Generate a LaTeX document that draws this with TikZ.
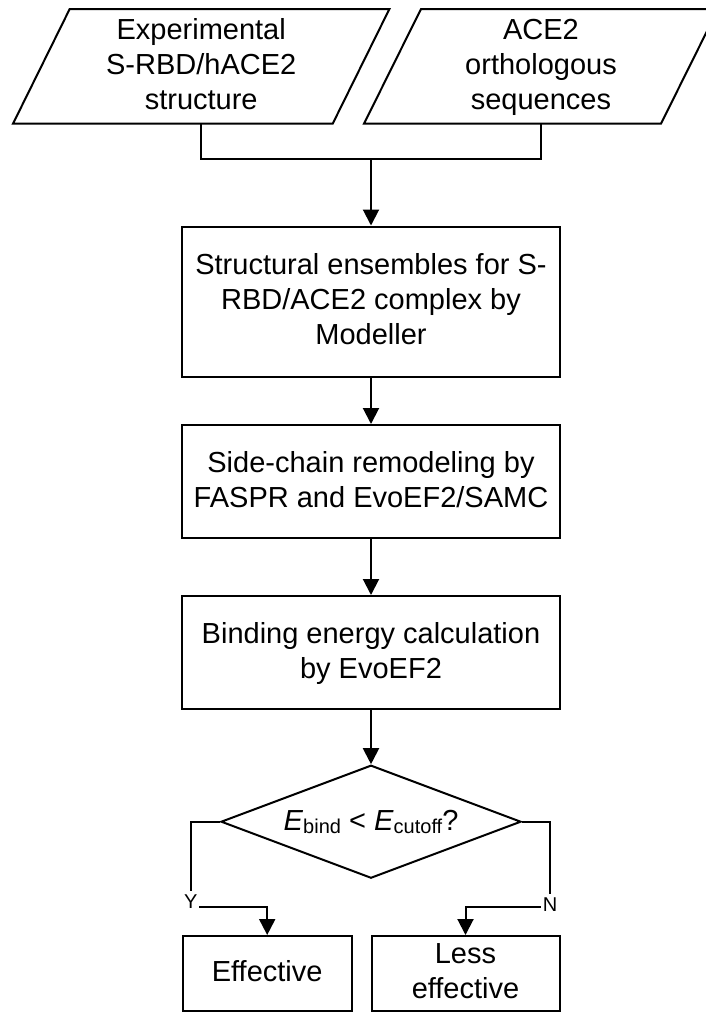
\documentclass[tikz,border=0pt]{standalone}
\usepackage{fontspec}
\setmainfont{Liberation Sans}
\usetikzlibrary{arrows.meta,shapes.geometric}
% one strut per text line so every line gets the same height
\newcommand\lnstrut{\rule[-9.5pt]{0pt}{35pt}}

\begin{document}
\begin{tikzpicture}[x=1pt,y=-1pt,
  font=\fontsize{29}{35}\selectfont,
  line width=2pt,
  procbox/.style={draw, rectangle, align=center, inner sep=0pt},
  databox/.style={rectangle, align=center, inner sep=0pt},
  flow/.style={-{Triangle[width=16pt,length=16pt]}},
  yn/.style={fill=white, font=\fontsize{20}{24}\selectfont, inner xsep=1.5pt, inner ysep=4pt}
]
\useasboundingbox (0,0) rectangle (706,1013);
\fill[white] (0,0) rectangle (706,1013);

% inputs (parallelograms)
\node[databox, minimum width=317.7pt, minimum height=112.7pt] (p1) at (201.2,66.35)
  {\lnstrut Experimental\\\lnstrut S-RBD/hACE2\\\lnstrut structure};
\draw ([xshift=-28.35pt]p1.south west) -- ([xshift=-28.35pt]p1.south east)
  -- ([xshift=28.35pt]p1.north east) -- ([xshift=28.35pt]p1.north west) -- cycle;

\node[databox, minimum width=295pt, minimum height=112.7pt] (p2) at (541,66.35)
  {\lnstrut ACE2\\\lnstrut orthologous\\\lnstrut sequences};
\draw ([xshift=-28.5pt]p2.south west) -- ([xshift=-28.5pt]p2.south east)
  -- ([xshift=28.5pt]p2.north east) -- ([xshift=28.5pt]p2.north west) -- cycle;

% processing steps
\node[procbox, minimum width=378pt, minimum height=150pt] (b1) at (371,301.5)
  {\lnstrut Structural ensembles for S-\\\lnstrut RBD/ACE2 complex by\\\lnstrut Modeller};
\node[procbox, minimum width=378pt, minimum height=113.3pt] (b2) at (371,481.65)
  {\lnstrut Side-chain remodeling by\\\lnstrut FASPR and EvoEF2/SAMC};
\node[procbox, minimum width=378pt, minimum height=113.3pt] (b3) at (371,652.65)
  {\lnstrut Binding energy calculation\\\lnstrut by EvoEF2};

% decision
\node[draw, diamond, aspect=2.65, inner sep=0pt, minimum width=300pt, minimum height=113pt] (dec) at (371,821.7)
  {\textit{E}\raisebox{-3pt}{\fontsize{20}{20}\selectfont bind} < \textit{E}\raisebox{-3pt}{\fontsize{20}{20}\selectfont cutoff}?};

% outcomes
\node[procbox, minimum width=169pt, minimum height=74.7pt] (e1) at (267.2,973.35)
  {\lnstrut Effective};
\node[procbox, minimum width=188pt, minimum height=74.7pt] (e2) at (465.5,973.35)
  {\lnstrut Less\\\lnstrut effective};

% connectors
\coordinate (j) at (371,159.3);
\draw (p1.south) |- (j) -| (p2.south);
\draw[flow] (j) -- (b1.north);
\draw[flow] (b1.south) -- (b2.north);
\draw[flow] (b2.south) -- (b3.north);
\draw[flow] (b3.south) -- (dec.north);

\coordinate (yc) at (190.7,907.3);
\coordinate (nc) at (550,907.3);
\draw[flow] (dec.west) -| (yc) -| (e1.north);
\draw[flow] (dec.east) -| (nc) -| (e2.north);
\node[yn] (ylab) at (190.7,902) {Y};
\node[yn] (nlab) at (550,905) {N};
\end{tikzpicture}
\end{document}
